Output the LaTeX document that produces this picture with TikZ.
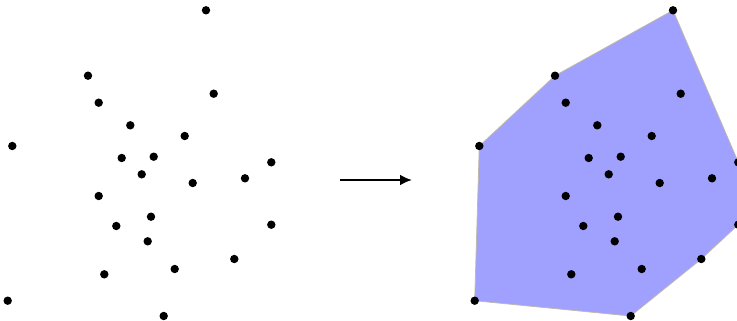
\documentclass[tikz,border=0pt]{standalone}
\usepackage{tikz}
\usetikzlibrary{arrows.meta}
\definecolor{hullblue}{RGB}{160,160,255}
\definecolor{hulledge}{RGB}{190,185,170}
\tikzset{pt/.style={fill=black}}
\newcommand{\pointset}{206/10.3, 88/75.7, 98.7/102.7, 213.7/93.7, 130.3/125.3, 184.7/136, 12.3/146, 121.7/158, 153.7/156.7, 271.3/162.3, 141.7/174.3, 192.7/183, 245/178.3, 98.7/196, 151/216.7, 116.3/226, 271.3/224.7, 147.7/241.3, 234.3/259, 174.7/269, 104.3/274.3, 7.7/300.7, 163.7/316}
\begin{document}
\begin{tikzpicture}[x=1pt,y=-1pt]
\useasboundingbox (0,0) rectangle (737,321);
\clip (0,0) rectangle (737,321);
% points
\foreach \x/\y in \pointset
  \fill[pt] (\x,\y) circle (4.2);
% arrow
\coordinate (from) at (340,180);
\coordinate (to) at (412,180);
\draw[-{Latex[length=12pt,width=11pt]},line width=2.5pt] (from) -- (to);
% convex hull
\begin{scope}[xshift=467pt]
\fill[hullblue,draw=hulledge,line width=0.8pt] (206,10.3) -- (271.3,162.3) -- (271.3,224.7) -- (234.3,259) -- (163.7,316) -- (7.7,300.7) -- (12.3,146) -- (88,75.7) -- cycle;
\foreach \x/\y in \pointset
  \fill[pt] (\x,\y) circle (4.2);
\end{scope}
\end{tikzpicture}
\end{document}
